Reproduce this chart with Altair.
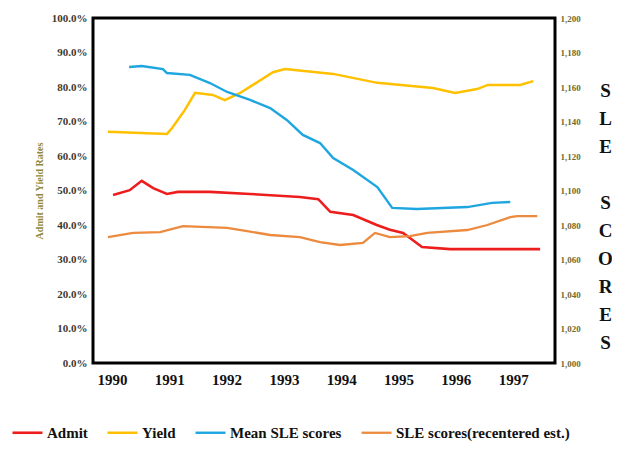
import altair as alt
import pandas as pd

# ---------------- data ----------------
series_names = ["Admit", "Yield", "Mean SLE scores", "SLE scores(recentered est.)"]
series_colors = ["#ee1d1d", "#ffc000", "#1ea6e0", "#ec8a3e"]
series_widths = [2.6, 2.3, 2.6, 1.8]

admit_years = [1990.02, 1990.31, 1990.52, 1990.72, 1990.96, 1991.15, 1991.71, 1992.41,
               1993.28, 1993.60, 1993.81, 1994.21, 1994.62, 1994.85, 1995.08, 1995.24,
               1995.41, 1995.90, 1997.47]
admit_pct = [48.7, 50.1, 52.8, 50.7, 49.0, 49.6, 49.6, 49.0,
             48.1, 47.5, 43.8, 42.9, 40.0, 38.6, 37.7, 35.7,
             33.6, 33.0, 33.0]

yield_years = [1989.93, 1990.96, 1991.05, 1991.27, 1991.45, 1991.76, 1991.97, 1992.23,
               1992.46, 1992.81, 1993.02, 1993.86, 1994.63, 1995.60, 1995.99, 1996.37,
               1996.56, 1997.12, 1997.35]
yield_pct = [67.0, 66.4, 68.1, 73.3, 78.3, 77.7, 76.2, 78.2,
             80.6, 84.3, 85.2, 83.8, 81.2, 79.7, 78.3, 79.4,
             80.6, 80.6, 81.7]

sle_years = [1990.30, 1990.52, 1990.89, 1990.96, 1991.36, 1991.71, 1992.01, 1992.41,
             1992.76, 1993.05, 1993.33, 1993.63, 1993.86, 1994.21, 1994.63, 1994.89,
             1995.32, 1996.20, 1996.63, 1996.95]
sle_scores = [1171.6, 1172.2, 1170.4, 1168.1, 1167.0, 1162.3, 1157.1, 1152.5,
              1147.8, 1140.9, 1132.2, 1127.5, 1118.8, 1111.9, 1102.0, 1089.9,
              1089.3, 1090.4, 1092.8, 1093.3]

rec_years = [1989.93, 1990.37, 1990.84, 1991.24, 1992.01, 1992.36, 1992.76, 1993.28,
             1993.63, 1993.98, 1994.38, 1994.50, 1994.59, 1994.85, 1995.20, 1995.50,
             1996.20, 1996.55, 1996.95, 1997.07, 1997.42]
rec_scores = [1073.0, 1075.4, 1075.9, 1079.4, 1078.3, 1076.5, 1074.2, 1073.0,
              1070.1, 1068.4, 1069.6, 1073.0, 1075.4, 1073.0, 1073.6, 1075.4,
              1077.1, 1080.0, 1084.6, 1085.2, 1085.2]

year_ticks = [1990, 1991, 1992, 1993, 1994, 1995, 1996, 1997]
rate_ticks = [0.0, 0.1, 0.2, 0.3, 0.4, 0.5, 0.6, 0.7, 0.8, 0.9, 1.0]
score_ticks = [1000, 1020, 1040, 1060, 1080, 1100, 1120, 1140, 1160, 1180, 1200]
right_title = ["S", "L", "E", "\u2800", "S", "C", "O", "R", "E", "S"]

# ---------------- tables ----------------
left_df = pd.concat([
    pd.DataFrame({"year": admit_years, "rate": [v / 100 for v in admit_pct], "series": "Admit"}),
    pd.DataFrame({"year": yield_years, "rate": [v / 100 for v in yield_pct], "series": "Yield"}),
])
right_df = pd.concat([
    pd.DataFrame({"year": sle_years, "score": sle_scores, "series": "Mean SLE scores"}),
    pd.DataFrame({"year": rec_years, "score": rec_scores, "series": "SLE scores(recentered est.)"}),
])

SERIF = "Liberation Serif"

x_enc = alt.X("year:Q",
              scale=alt.Scale(domain=[1989.67, 1997.73], nice=False, zero=False),
              axis=alt.Axis(values=year_ticks, format="d", title=None, grid=False,
                            ticks=False, domain=False, labelFont=SERIF,
                            labelFontWeight="bold", labelFontSize=15,
                            labelColor="#111111", labelPadding=9))

color_enc = alt.Color("series:N",
                      scale=alt.Scale(domain=series_names, range=series_colors),
                      legend=alt.Legend(orient="none", legendX=-82, legendY=398,
                                        direction="horizontal", title=None,
                                        symbolType="stroke", symbolSize=900,
                                        symbolStrokeWidth=2.5, labelFont=SERIF,
                                        labelFontWeight="bold", labelFontSize=15,
                                        labelColor="#111111", columnPadding=14,
                                        labelOffset=3, labelLimit=400))
width_enc = alt.StrokeWidth("series:N",
                            scale=alt.Scale(domain=series_names, range=series_widths),
                            legend=None)

left = alt.Chart(left_df).mark_line().encode(
    x=x_enc,
    y=alt.Y("rate:Q", scale=alt.Scale(domain=[0, 1], nice=False),
            axis=alt.Axis(orient="left", values=rate_ticks, format=".1%",
                          title="Admit and Yield Rates", grid=False, ticks=False,
                          domain=False, labelFont=SERIF, labelFontWeight="bold",
                          labelFontSize=11, labelColor="#3a3a2c", labelPadding=6,
                          titleFont=SERIF, titleFontSize=10, titleFontWeight="bold",
                          titleColor="#8e8a3e", titlePadding=7)),
    color=color_enc,
    strokeWidth=width_enc,
    order="year:Q",
)

right = alt.Chart(right_df).mark_line().encode(
    x=x_enc,
    y=alt.Y("score:Q", scale=alt.Scale(domain=[1000, 1200], nice=False, zero=False),
            axis=alt.Axis(orient="right", values=score_ticks, format=",.0f",
                          title=right_title,
                          grid=False, ticks=False, domain=False, labelFont=SERIF,
                          labelFontWeight="bold", labelFontSize=9,
                          labelColor="#6f6c30", labelPadding=5,
                          titleFont=SERIF, titleFontSize=19, titleFontWeight="bold",
                          titleColor="#111111", titleAngle=0, titleLineHeight=28,
                          titleX=50, titleY=63, titleAlign="center",
                          titleBaseline="top")),
    color=color_enc,
    strokeWidth=width_enc,
    order="year:Q",
)

chart = alt.layer(left, right).resolve_scale(y="independent").properties(
    width=462,
    height=345,
    autosize=alt.AutoSizeParams(type="none"),
    padding={"left": 85, "top": 10, "right": 57, "bottom": 79},
    background="white",
).configure_view(stroke="#000000", strokeWidth=3)

chart.save("out.html", embed_options={"renderer": "svg", "actions": False})
